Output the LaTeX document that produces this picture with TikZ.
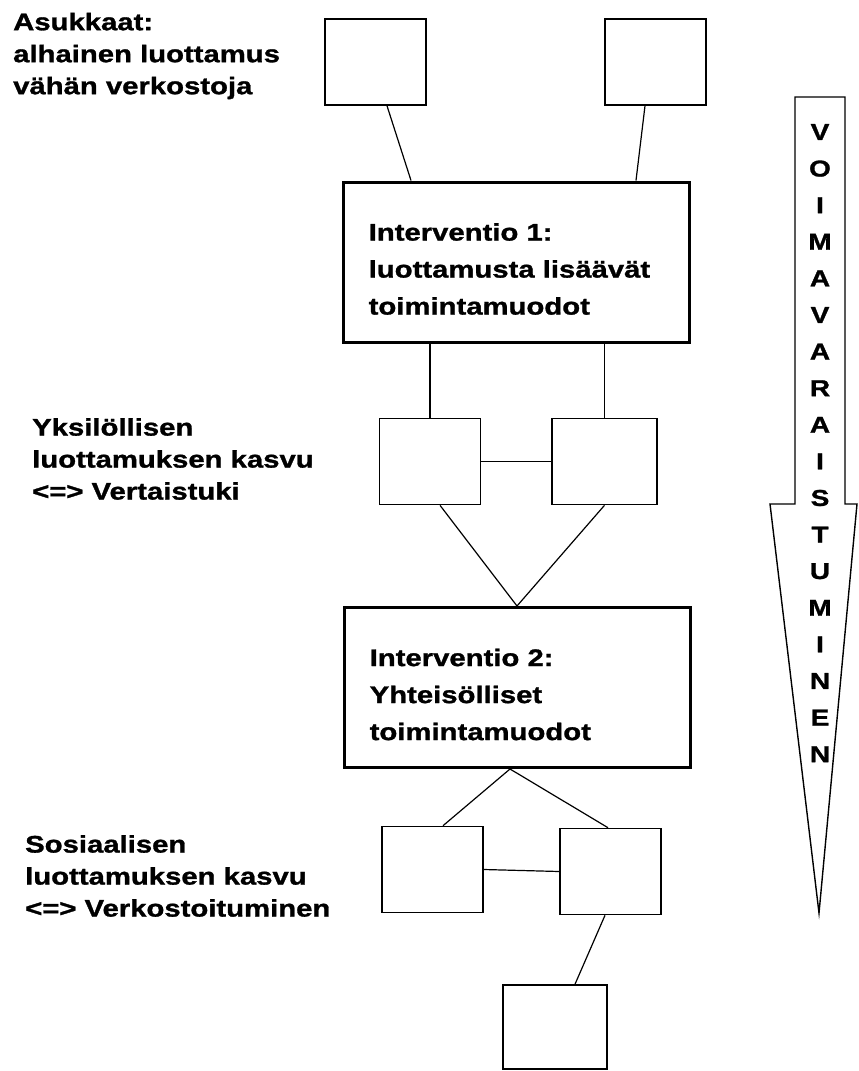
\documentclass[tikz,border=0pt]{standalone}
\usepackage{fontspec}
\newfontfamily\diafont{Liberation Sans}[FakeStretch=1.22, FakeBold=1.2]

\tikzset{
  x=1pt, y=-1pt,
  box/.style={draw=black, line width=1.6pt, inner sep=0pt, minimum width=101pt, minimum height=86pt},
  bigbox/.style={draw=black, line width=3pt, minimum width=346pt, minimum height=160pt, inner sep=0pt},
  inttext/.style={anchor=west, align=left, inner sep=0pt,
    font=\diafont\bfseries\fontsize{24}{37}\selectfont},
  link/.style={line width=1.2pt},
  sidetext/.style={anchor=west, align=left, inner sep=0pt,
    font=\diafont\bfseries\fontsize{24}{32}\selectfont},
  arrowletter/.style={inner sep=0pt, font=\diafont\bfseries\fontsize{23}{23}\selectfont}
}

\begin{document}
\begin{tikzpicture}
\useasboundingbox (0,0) rectangle (859,1071);

%side texts
\node[sidetext] (asukkaat) at (13,56) {Asukkaat:\\alhainen luottamus\\vähän verkostoja};
\node[sidetext] (yksilo) at (32,459) {Yksilöllisen\\luottamuksen kasvu\\<=> Vertaistuki};
\node[sidetext] (sosiaali) at (25,876) {Sosiaalisen\\luottamuksen kasvu\\<=> Verkostoituminen};

%boxes
\node[box] (topA) at (375.5,62) {};
\node[box] (topB) at (655.5,62) {};
\node[bigbox] (int1) at (516,262) {};
\node[box] (midA) at (430,461.5) {};
\node[box, minimum width=105pt] (midB) at (604.5,461.5) {};
\node[bigbox] (int2) at (517,687.5) {};
\node[box] (botA) at (432.5,869.5) {};
\node[box] (botB) at (610.5,871.5) {};
\node[box, minimum width=104pt, minimum height=84pt] (last) at (555,1027) {};

%texts in the big boxes
\node[inttext] (int1text) at ([xshift=27pt,yshift=-7pt]int1.west) {Interventio 1:\\luottamusta lisäävät\\toimintamuodot};
\node[inttext] (int2text) at ([xshift=27pt,yshift=-7pt]int2.west) {Interventio 2:\\Yhteisölliset\\toimintamuodot};

%connectors
\draw[link] ([xshift=11.5pt]topA.south) -- ([xshift=-105pt]int1.north);
\draw[link] ([xshift=-10.5pt]topB.south) -- ([xshift=120pt]int1.north);
\draw[link] (midA.north) -- (midA.north |- int1.south);
\draw[link] (midB.north) -- (midB.north |- int1.south);
\draw[link] (midA.east) -- (midB.west);
\draw[link] ([xshift=10pt]midA.south) -- (int2.north);
\draw[link] (midB.south) -- (int2.north);
\draw[link] ([xshift=-7pt]int2.south) -- ([xshift=10.5pt]botA.north);
\draw[link] ([xshift=-7pt]int2.south) -- ([xshift=-2.5pt]botB.north);
\draw[link] (botA.east) -- (botB.west);
\draw[link] ([xshift=-5.5pt]botB.south) -- ([xshift=20pt]last.north);

%big arrow down the right side
\draw[line width=1.4pt, line join=miter] (795,97) -- (845,97) -- (845,504) -- (857,504)
  -- (819,913) -- (770,504) -- (795,504) -- cycle;
\foreach \l [count=\i from 0] in {V,O,I,M,A,V,A,R,A,I,S,T,U,M,I,N,E,N}
  \node[arrowletter] (letter\i) at (820,{132+36.6*\i}) {\l};

\end{tikzpicture}
\end{document}
